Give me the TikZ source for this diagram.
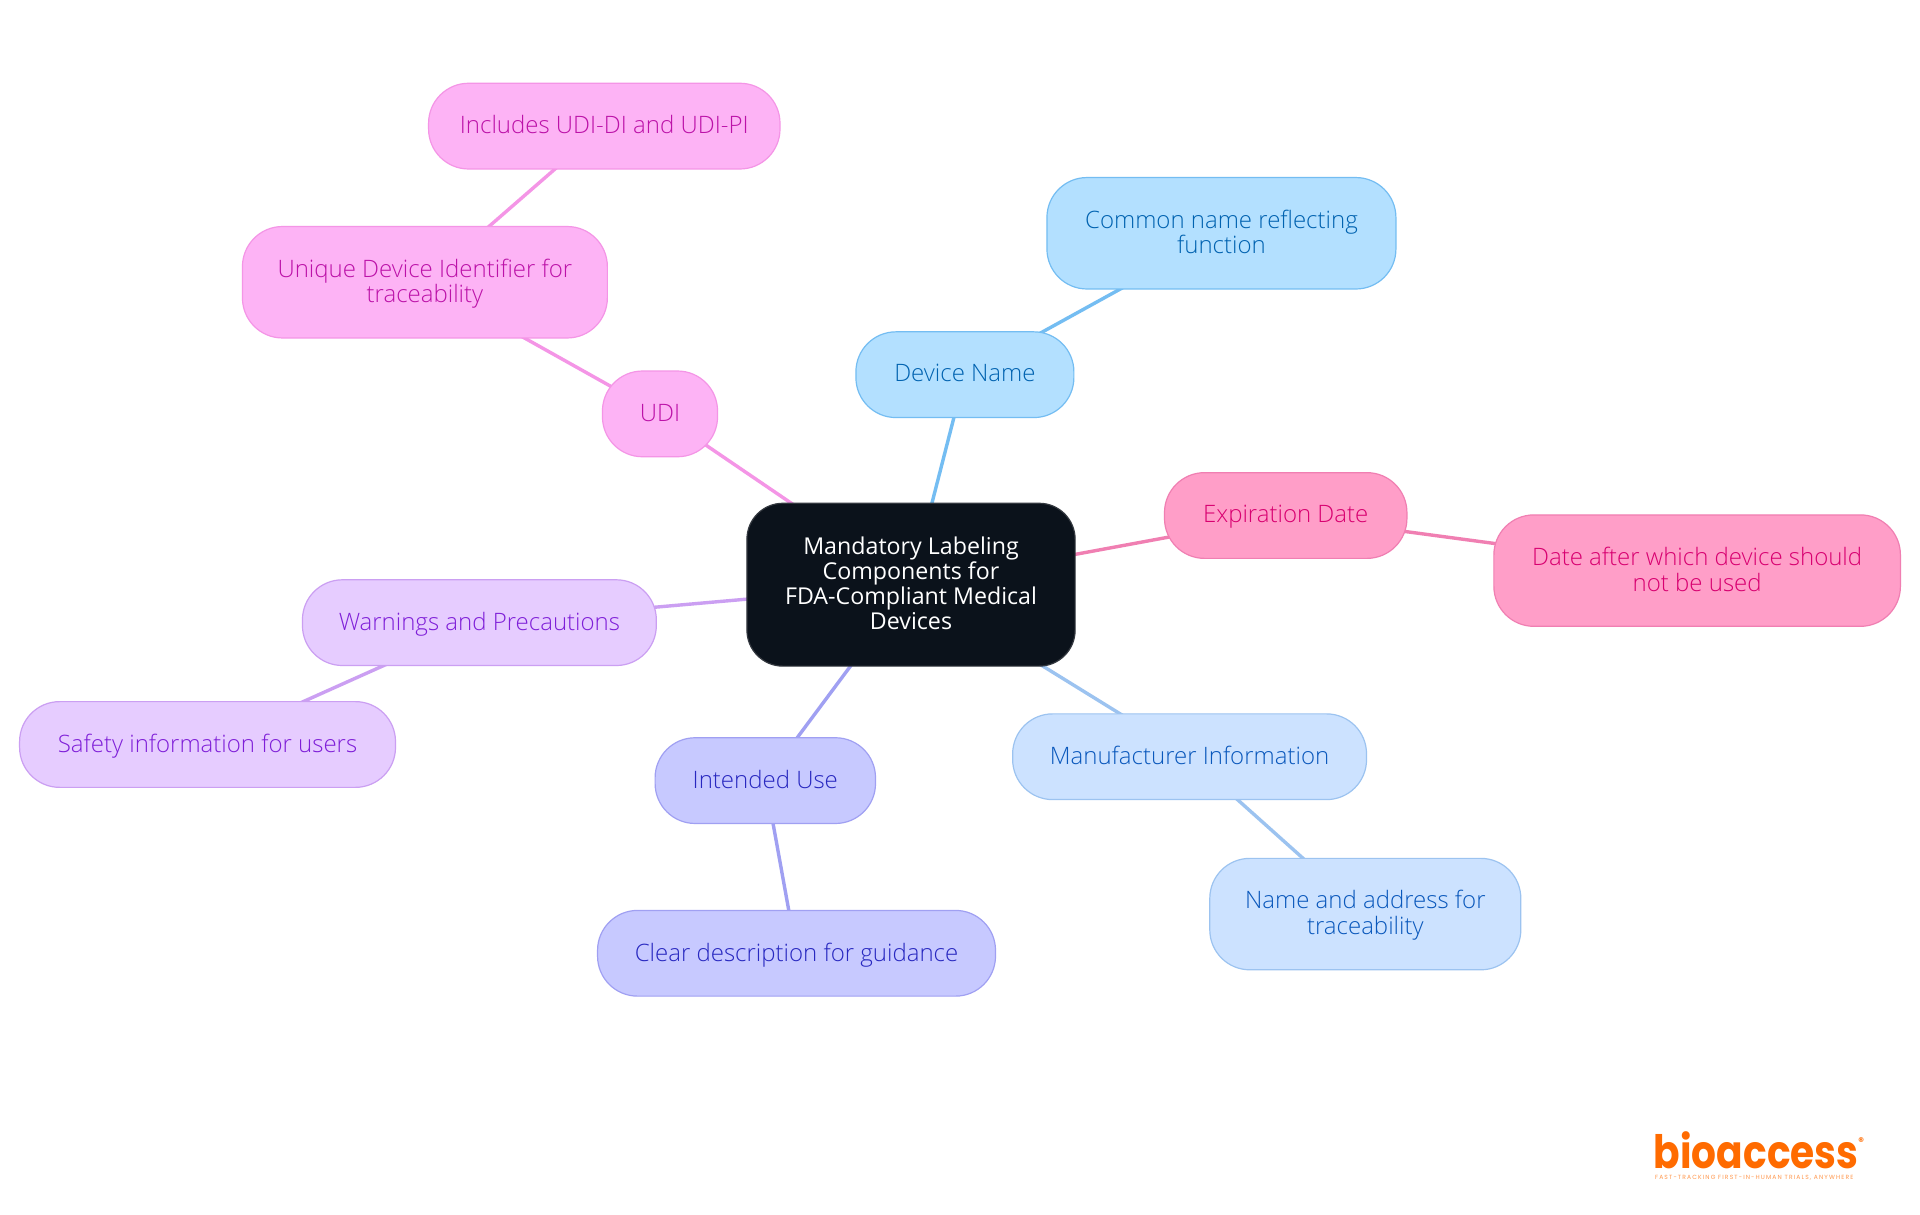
\documentclass[tikz,border=0pt]{standalone}
\usepackage{fontspec}
\setmainfont{Open Sans Light}
\newfontfamily\rootfont{Open Sans}
\newfontfamily\logofont{Poppins}
\newfontfamily\tagfont[LetterSpace=19]{Poppins}
\usetikzlibrary{backgrounds}
\definecolor{dnF}{HTML}{B3E0FF}\definecolor{dnS}{HTML}{74BDF2}\definecolor{dnT}{HTML}{0062B0}
\definecolor{udF}{HTML}{FDB3F5}\definecolor{udS}{HTML}{F495E6}\definecolor{udT}{HTML}{BC12A8}
\definecolor{edF}{HTML}{FF9EC8}\definecolor{edS}{HTML}{F07FB2}\definecolor{edT}{HTML}{D80070}
\definecolor{wpF}{HTML}{E6CCFF}\definecolor{wpS}{HTML}{CB9FF2}\definecolor{wpT}{HTML}{7F1FD8}
\definecolor{iuF}{HTML}{C7C9FF}\definecolor{iuS}{HTML}{A0A0F2}\definecolor{iuT}{HTML}{2828C0}
\definecolor{miF}{HTML}{CCE2FF}\definecolor{miS}{HTML}{9CC3F0}\definecolor{miT}{HTML}{0A58BC}
\definecolor{rootF}{HTML}{0B121B}\definecolor{rootS}{HTML}{33383F}
\definecolor{logoC}{HTML}{FF6B00}
\newcommand{\lbl}[1]{\raisebox{0pt}[\dimexpr\height+4.6pt\relax][\depth]{\begin{tabular}{@{}c@{}}#1\end{tabular}}}
\tikzset{
  x=1.2245pt,y=-1.2245pt,
  box/.style n args={3}{draw=#2,fill=#1,text=#3,line width=1.2pt,rounded corners=40pt,
    inner sep=0pt,font=\fontsize{24}{25}\selectfont},
  sz/.style 2 args={minimum width=#1*1.2245pt,minimum height=#2*1.2245pt},
  dnbox/.style={box={dnF}{dnS}{dnT}},
  udbox/.style={box={udF}{udS}{udT}},
  edbox/.style={box={edF}{edS}{edT}},
  wpbox/.style={box={wpF}{wpS}{wpT}},
  iubox/.style={box={iuF}{iuS}{iuT}},
  mibox/.style={box={miF}{miS}{miT}},
  rootbox/.style={box={rootF}{rootS}{white},rounded corners=36pt,font=\rootfont\fontsize{23.2}{25}\selectfont},
  link/.style={line width=3.4pt},
}
\begin{document}
\begin{tikzpicture}
\useasboundingbox (0,0) rectangle (1568,992.2);
\node[rootbox,sz={268}{133}] (root) at (744,477.5) {\lbl{Mandatory Labeling\\Components for\\FDA-Compliant Medical\\Devices}};
\node[dnbox,sz={178}{70}] (dn) at (788,306) {\lbl{Device Name}};
\node[dnbox,sz={285}{91}] (cn) at (997.5,190.5) {\lbl{Common name reflecting\\function}};
\node[udbox,sz={94}{70}] (udi) at (539,338) {\lbl{UDI}};
\node[udbox,sz={298}{91}] (uid) at (347,230.5) {\lbl{Unique Device Identifier for\\traceability}};
\node[udbox,sz={287}{70}] (inc) at (493.5,103) {\lbl{Includes UDI-DI and UDI-PI}};
\node[edbox,sz={198}{70}] (exp) at (1050,421) {\lbl{Expiration Date}};
\node[edbox,sz={332}{91}] (dat) at (1386,466) {\lbl{Date after which device should\\not be used}};
\node[wpbox,sz={289}{70}] (war) at (391.5,508.5) {\lbl{Warnings and Precautions}};
\node[wpbox,sz={307}{70}] (saf) at (169.5,608) {\lbl{Safety information for users}};
\node[iubox,sz={180}{70}] (use) at (625,637.5) {\lbl{Intended Use}};
\node[iubox,sz={325}{70}] (cle) at (650.5,778.5) {\lbl{Clear description for guidance}};
\node[mibox,sz={289}{70}] (man) at (971.5,618) {\lbl{Manufacturer Information}};
\node[mibox,sz={254}{91}] (nam) at (1115,746.5) {\lbl{Name and address for\\traceability}};
\node[text=logoC,inner sep=0pt,anchor=base west,font=\logofont\bfseries\fontsize{46}{46}\selectfont] (logo) at (1350.5,954.5) {\scalebox{0.85}[1]{bioaccess}};
\node[text=logoC,inner sep=0pt,font=\logofont\bfseries\fontsize{11}{11}\selectfont] (reg) at (1520,932.6) {®};
\node[text=logoC!70,inner sep=0pt,anchor=base west,font=\tagfont\fontsize{6}{6}\selectfont] (tag) at (1351.5,963) {FAST-TRACKING FIRST-IN-HUMAN TRIALS, ANYWHERE};
\begin{scope}[on background layer]
\fill[white] (0,0) rectangle (1568,992.2);
\draw[link,dnS] (root.center) -- (dn.center);
\draw[link,dnS] (dn.center) -- (cn.center);
\draw[link,udS] (root.center) -- (udi.center);
\draw[link,udS] (udi.center) -- (uid.center);
\draw[link,udS] (uid.center) -- (inc.center);
\draw[link,edS] (root.center) -- (exp.center);
\draw[link,edS] (exp.center) -- (dat.center);
\draw[link,wpS] (root.center) -- (war.center);
\draw[link,wpS] (war.center) -- (saf.center);
\draw[link,iuS] (root.center) -- (use.center);
\draw[link,iuS] (use.center) -- (cle.center);
\draw[link,miS] (root.center) -- (man.center);
\draw[link,miS] (man.center) -- (nam.center);
\end{scope}
\end{tikzpicture}
\end{document}
